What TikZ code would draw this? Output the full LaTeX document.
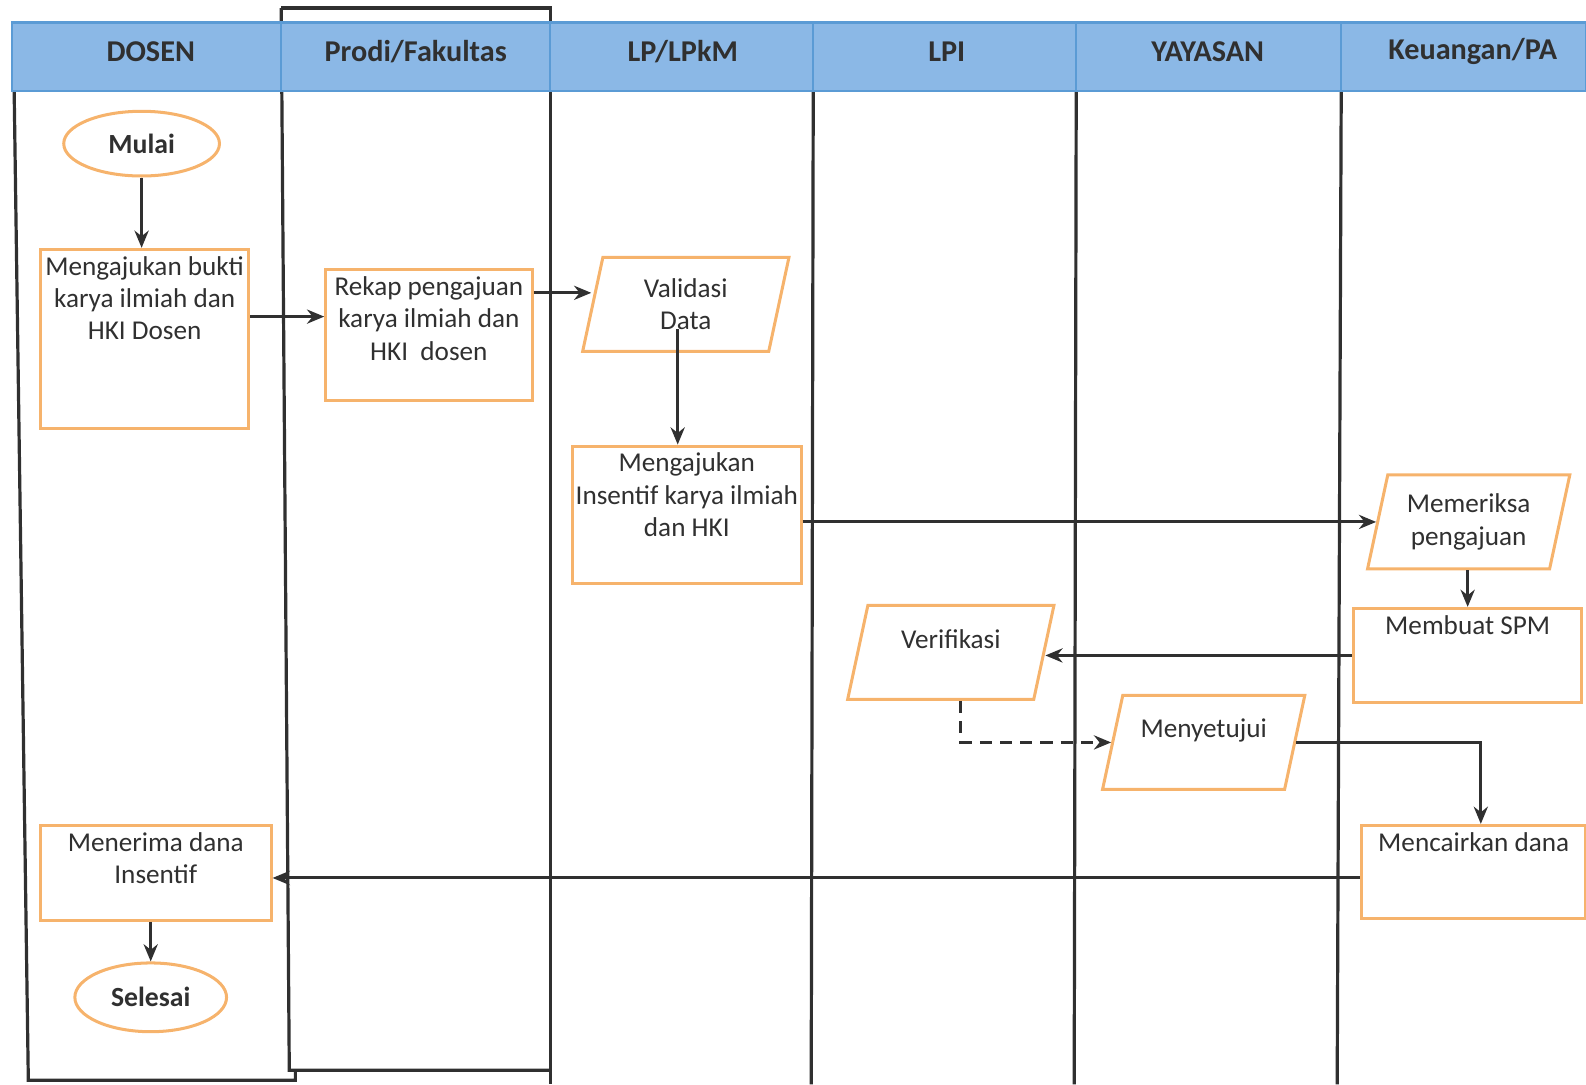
\documentclass[tikz,border=0pt]{standalone}
\usepackage{fontspec}
\setmainfont{Carlito}
\usetikzlibrary{positioning,shapes.geometric,arrows.meta}

\definecolor{orangeline}{HTML}{F6B36C}
\definecolor{headfill}{HTML}{8BB8E6}
\definecolor{headline}{HTML}{5B9BD5}
\definecolor{inkgray}{HTML}{303030}

\tikzset{
  lane/.style={line width=1.8pt, draw=inkgray},
  procbox/.style={rectangle, draw=orangeline, line width=1.7pt, inner sep=0pt},
  iobox/.style={rectangle, draw=orangeline, line width=1.7pt, inner sep=0pt,
    xslant=0.215, transform shape, minimum height=1.86cm},
  terminal/.style={ellipse, draw=orangeline, line width=1.7pt, inner sep=0pt,
    text=inkgray, font=\fontsize{15.6}{18}\selectfont\bfseries},
  txt/.style={align=center, inner sep=0pt, text=inkgray,
    font=\fontsize{15.3}{18.2}\selectfont},
  lanehead/.style={text=inkgray, font=\fontsize{17}{20}\selectfont\bfseries},
  flow/.style={-{Stealth[length=3.4mm,width=2.8mm]}, line width=1.7pt, draw=inkgray},
  dashflow/.style={flow, dash pattern=on 2.4mm off 1.6mm},
}

\begin{document}
\begin{tikzpicture}[x=0.02cm, y=-0.02cm]

\useasboundingbox (0,0) rectangle (1568,1072);

% Lane lines
% DOSEN lane
\draw[lane] (14,90) -- (28,1068) -- (292,1068) -- (292,1058);
% Prodi/Fakultas lane (own frame)
\draw[lane] (278,8) -- (544,8) -- (544,1072);
\draw[lane] (278,8) -- (286,1058) -- (544,1058);
% Dividers of the other lanes
\draw[lane] (804,90) -- (802,1072);
\draw[lane] (1064,90) -- (1062,1072);
\draw[lane] (1326,90) -- (1322,1072);

% Header band
\fill[headfill] (12,22) rectangle (1568,90);
\draw[headline, line width=1.5pt] (12,22) rectangle (1568,90);
\foreach \x in {278,544,804,1064,1326}
  \draw[headline, line width=1.3pt] (\x,22) -- (\x,90);

% Lane titles
\node[lanehead] (hdosen) at (149,51) {DOSEN};
\node[lanehead] (hprodi) at (411,51) {Prodi/Fakultas};
\node[lanehead] (hlp) at (675,51) {LP/LPkM};
\node[lanehead] (hlpi) at (936,51) {LPI};
\node[lanehead] (hyay) at (1194,51) {YAYASAN};
\node[lanehead] (hkeu) at (1456,51) {Keuangan/PA};

% Start
\node[terminal, minimum width=3.08cm, minimum height=1.28cm] (mulai) at (140,142) {Mulai};

% Mengajukan bukti
\node[procbox, minimum width=4.12cm, minimum height=3.54cm] (ajukan) at (143,335) {};
\node[txt, below=0.16cm of ajukan.north] (ajukantxt) {Mengajukan bukti\\karya ilmiah dan\\HKI Dosen};

% Rekap pengajuan
\node[procbox, minimum width=4.08cm, minimum height=2.58cm] (rekap) at (424,331) {};
\node[txt, below=0.16cm of rekap.north] (rekaptxt) {Rekap pengajuan\\karya ilmiah dan\\HKI\ \ dosen};

% Validasi data
\node[iobox, minimum width=3.68cm] (valid) at (678,301) {};
\node[txt] (validtxt) at (valid.center) {Validasi\\Data};

% Mengajukan insentif
\node[procbox, minimum width=4.52cm, minimum height=2.72cm] (insentif) at (679,509) {};
\node[txt, below=0.16cm of insentif.north] (insentiftxt) {Mengajukan\\Insentif karya ilmiah\\dan HKI};

% Memeriksa pengajuan
\node[iobox, minimum width=3.6cm] (periksa) at (1452,516) {};
\node[txt] (periksatxt) at (periksa.center) {Memeriksa\\pengajuan};

% Membuat SPM
\node[procbox, minimum width=4.52cm, minimum height=1.86cm] (spm) at (1451,648) {};
\node[txt, below=0.16cm of spm.north] (spmtxt) {Membuat SPM};

% Verifikasi
\node[iobox, minimum width=3.68cm] (verif) at (940,645) {};
\node[txt] (veriftxt) at ([yshift=0.26cm]verif.center) {Verifikasi};

% Menyetujui
\node[iobox, minimum width=3.6cm] (setuju) at (1190,734) {};
\node[txt] (setujutxt) at ([yshift=0.24cm]setuju.center) {Menyetujui};

% Mencairkan dana
\node[procbox, minimum width=4.44cm, minimum height=1.84cm] (cair) at (1457,862) {};
\node[txt, below=0.16cm of cair.north] (cairtxt) {Mencairkan dana};

% Menerima dana
\node[procbox, minimum width=4.56cm, minimum height=1.88cm] (terima) at (154,863) {};
\node[txt, below=0.16cm of terima.north] (terimatxt) {Menerima dana\\Insentif};

% End
\node[terminal, minimum width=3.0cm, minimum height=1.36cm] (selesai) at (149,986) {Selesai};

% Connectors
\draw[flow] (mulai.south) -- (mulai.south |- ajukan.north);
\draw[flow] ([yshift=0.44cm]ajukan.east) -- ([yshift=0.44cm]ajukan.east -| rekap.west);
\draw[flow] ([yshift=0.83cm]rekap.east) -- ([yshift=0.83cm]rekap.east -| valid.west);
\draw[flow] ([shift={(-0.16cm,-0.49cm)}]valid.center) -- ([xshift=-0.16cm]valid.center |- insentif.north);
\draw[flow] (insentif.east |- periksa.west) -- (periksa.west);
\draw[flow] (spm.north |- periksa.south) -- (spm.north);
\draw[flow] (spm.west) -- (spm.west -| verif.east);
\draw[dashflow] ([xshift=0.4cm]verif.south) |- (setuju.west);
\draw[flow] (setuju.east) -| ([xshift=0.14cm]cair.north);
\draw[flow] ([yshift=-0.12cm]cair.west) -- ([yshift=-0.12cm]cair.west -| terima.east);
\draw[flow] (selesai.north |- terima.south) -- (selesai.north);

\end{tikzpicture}
\end{document}
